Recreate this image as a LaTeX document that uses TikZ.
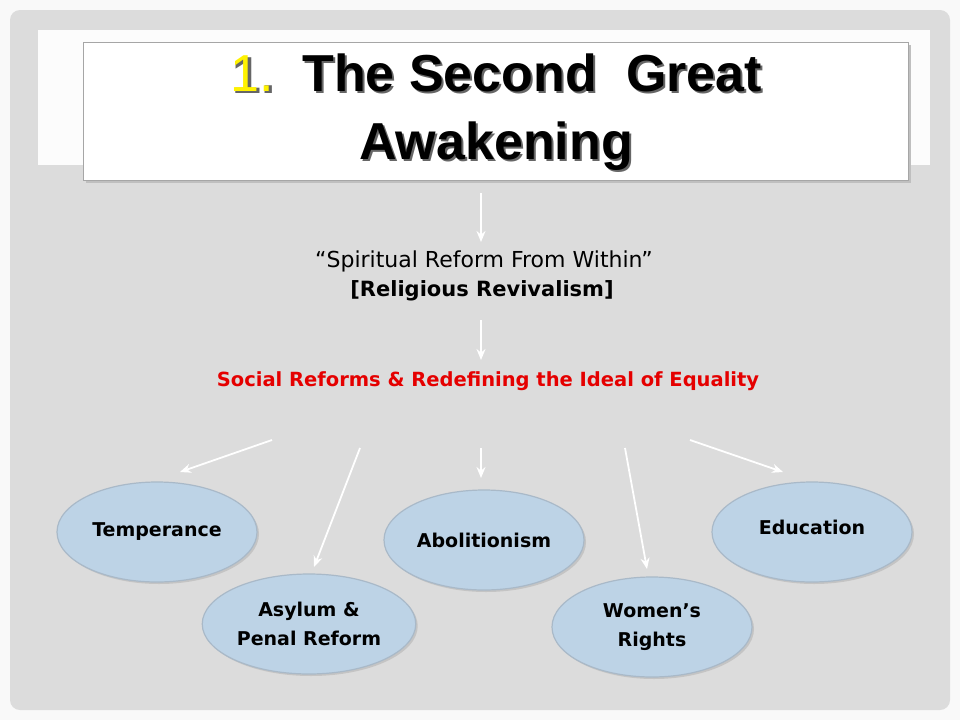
\documentclass[tikz,border=0pt]{standalone}
\usepackage{fontspec}
\setmainfont{DejaVu Sans}
\newfontfamily\titlefont{Liberation Sans}
\usetikzlibrary{arrows.meta,shadows,shapes.geometric}
\definecolor{slide}{HTML}{DCDCDC}
\definecolor{oval}{HTML}{BDD3E6}
\definecolor{ovalline}{HTML}{A9B9C8}
\begin{document}
\begin{tikzpicture}[x=1pt,y=-1pt,
  topic/.style={ellipse,draw=ovalline,line width=1.2pt,fill=oval,minimum width=200pt,minimum height=100pt,align=center,font=\bfseries\fontsize{19}{29}\selectfont,drop shadow={shadow xshift=2pt,shadow yshift=-2pt,opacity=0.25}},
  ttl/.style={font=\titlefont\bfseries\fontsize{52}{68}\selectfont,align=center},
  wa/.style={-{Stealth[length=11pt,width=9pt]},draw=white,line width=1.8pt}]
\useasboundingbox (0,0) rectangle (960,720);
\fill[white!95!gray] (0,0) rectangle (960,720);
\fill[slide,rounded corners=10pt] (10,10) rectangle (950,710);
\fill[white!92!slide] (38,30) rectangle (930,165);
\fill[gray!50] (86,45) rectangle (911,183);
\draw[gray!70,fill=white] (83,42) rectangle (908,180);
\node[ttl,black!60] (tsh) at (498,114) {1.\ \ The Second\ \ Great\\Awakening};
\node[ttl] (t) at (496,112) {\textcolor{yellow}{\mdseries 1.}\ \ The Second\ \ Great\\Awakening};
\node (s1) at (484,261) {\fontsize{22}{26}\selectfont “Spiritual Reform From Within”};
\node (s2) at (482,291) {\fontsize{21}{25}\selectfont\bfseries [Religious Revivalism]};
\node[red!90!black] (s3) at (488,381) {\bfseries\fontsize{19.5}{23}\selectfont Social Reforms \& Redefining the Ideal of Equality};
\coordinate (a0) at (481,193); \coordinate (a0e) at (481,242);
\coordinate (a1) at (481,320); \coordinate (a1e) at (481,360);
\draw[wa] (a0) -- (a0e);
\draw[wa] (a1) -- (a1e);
\node[topic] (te) at (157,532) {Temperance};
\node[topic] (as) at (309,624) {Asylum \&\\Penal Reform};
\node[topic] (ab) at (484,540) {Abolitionism};
\node[topic] (wo) at (652,627) {Women’s\\Rights};
\node[topic] (ed) at (812,532) {\raisebox{10pt}{Education}};
\coordinate (b1) at (272,440); \coordinate (b2) at (360,448); \coordinate (b3) at (481,448);
\coordinate (b4) at (625,448); \coordinate (b5) at (690,440);
\coordinate (e1) at (180,472); \coordinate (e2) at (314,567); \coordinate (e3) at (481,478);
\coordinate (e4) at (647,569); \coordinate (e5) at (783,472);
\draw[wa] (b1) -- (e1);
\draw[wa] (b2) -- (e2);
\draw[wa] (b3) -- (e3);
\draw[wa] (b4) -- (e4);
\draw[wa] (b5) -- (e5);
\end{tikzpicture}
\end{document}
